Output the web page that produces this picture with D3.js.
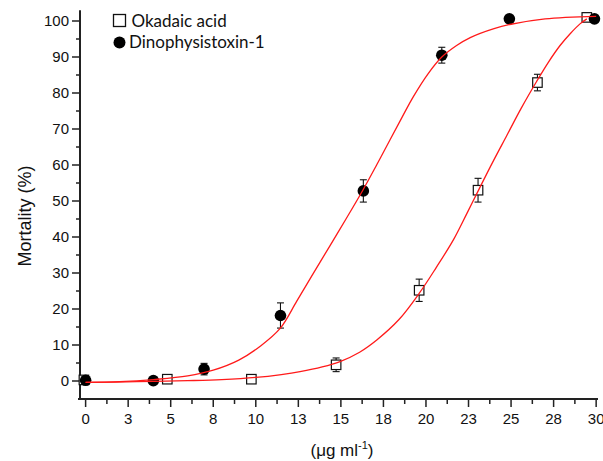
<!DOCTYPE html>
<html>
<head>
<meta charset="utf-8">
<script src="https://cdn.jsdelivr.net/npm/d3@7"></script>
<style>
  body { margin: 0; background: #fff; }
  svg { display: block; }
</style>
</head>
<body>
<div id="chart"></div>
<script>
let dtxDose = [0, 3.98, 6.96, 11.45, 16.32, 20.93, 24.9, 29.9];
let dtxMort = [0.2, 0.1, 3.3, 18.2, 52.8, 90.5, 100.6, 100.6];
let dtxErr  = [0, 0, 1.6, 3.5, 3.1, 2.2, 0, 0];

let oaDose = [-0.1, 4.8, 9.74, 14.72, 19.6, 23.06, 26.55, 29.45];
let oaMort = [0.3, 0.5, 0.5, 4.5, 25.2, 53, 82.9, 101];
let oaErr  = [0, 0, 0, 1.9, 3.1, 3.3, 2.3, 0];

// fitted curves
let dtxFitX = [0, 2, 4, 6, 7.5, 9, 10.3, 11.43, 12.4, 13.38, 14.4, 15.3, 16.29, 17.1, 17.89, 18.6, 19.26, 20.1, 20.93, 21.8, 22.6, 24, 25, 27, 30];
let dtxFitY = [-0.4, -0.2, 0.4, 1.4, 3, 5.8, 9.8, 14.6, 22.1, 29.9, 37.9, 45, 53, 60, 67, 73.3, 79, 85.2, 90, 93.2, 95.4, 97.9, 99.1, 100.6, 101.3];
let oaFitX = [0, 3, 6, 8, 10, 11.5, 12.6, 13.9, 14.95, 16.1, 17.11, 18.4, 19.61, 20.6, 21.61, 22.4, 23.12, 23.9, 24.75, 25.6, 26.5, 27.2, 27.88, 28.5, 29.05, 29.45];
let oaFitY = [-0.4, -0.2, 0.1, 0.4, 1.0, 1.8, 2.6, 3.9, 5.4, 8, 11.4, 17, 24.4, 31.5, 39.2, 46.5, 53.3, 60.6, 68.2, 75.8, 83.2, 88.6, 93.2, 96.6, 99.2, 100.6];

let xTickValues = [0, 2.5, 5, 7.5, 10, 12.5, 15, 17.5, 20, 22.5, 25, 27.5, 30];
let xTickLabels = ["0", "3", "5", "8", "10", "13", "15", "18", "20", "23", "25", "28", "30"];
let yTickValues = [0, 10, 20, 30, 40, 50, 60, 70, 80, 90, 100];
let yTickLabels = ["0", "10", "20", "30", "40", "50", "60", "70", "80", "90", "100"];

let seriesNames = ["Okadaic acid", "Dinophysistoxin-1"];

let width = 603, height = 461;

let svg = d3.select("#chart").append("svg")
    .attr("width", width)
    .attr("height", height);

let x = d3.scaleLinear().domain([-0.33, 30.05]).range([80, 597]);
let y = d3.scaleLinear().domain([-5, 103]).range([399, 10.2]);

let tickFont = "'Liberation Sans', Arial, sans-serif";

// x axis
let xMinor = xTickValues.slice(0, -1).map((d) => d + 1.25);
let xAxis = svg.append("g").attr("transform", "translate(0," + y(-5) + ")");
xAxis.append("line")
    .attr("x1", 78).attr("x2", 598)
    .attr("stroke", "#222").attr("stroke-width", 2);
xAxis.selectAll(".maj").data(xTickValues).enter().append("line")
    .attr("x1", (d) => x(d)).attr("x2", (d) => x(d))
    .attr("y1", 0).attr("y2", 8)
    .attr("stroke", "#222").attr("stroke-width", 1.5);
xAxis.selectAll(".min").data(xMinor).enter().append("line")
    .attr("x1", (d) => x(d)).attr("x2", (d) => x(d))
    .attr("y1", 0).attr("y2", 5)
    .attr("stroke", "#222").attr("stroke-width", 1.5);
xAxis.selectAll("text").data(xTickValues).enter().append("text")
    .attr("x", (d) => x(d))
    .attr("y", 25)
    .attr("text-anchor", "middle")
    .style("font-family", tickFont)
    .style("font-size", "15px")
    .attr("fill", "#111")
    .text((d, i) => xTickLabels[i]);

// y axis
let yMinor = yTickValues.slice(0, -1).map((d) => d + 5);
let yAxis = svg.append("g").attr("transform", "translate(" + x(-0.33) + ",0)");
yAxis.append("line")
    .attr("y1", y(103)).attr("y2", y(-5) + 1)
    .attr("stroke", "#222").attr("stroke-width", 2);
yAxis.selectAll(".maj").data(yTickValues).enter().append("line")
    .attr("y1", (d) => y(d)).attr("y2", (d) => y(d))
    .attr("x1", 0).attr("x2", -8)
    .attr("stroke", "#222").attr("stroke-width", 1.5);
yAxis.selectAll(".min").data(yMinor).enter().append("line")
    .attr("y1", (d) => y(d)).attr("y2", (d) => y(d))
    .attr("x1", 0).attr("x2", -4)
    .attr("stroke", "#222").attr("stroke-width", 1.5);
yAxis.selectAll("text").data(yTickValues).enter().append("text")
    .attr("x", -11)
    .attr("y", (d) => y(d))
    .attr("dy", "0.36em")
    .attr("text-anchor", "end")
    .style("font-family", tickFont)
    .style("font-size", "15px")
    .attr("fill", "#111")
    .text((d, i) => yTickLabels[i]);

// axis titles
svg.append("text")
    .attr("transform", "translate(31,216) rotate(-90)")
    .attr("text-anchor", "middle")
    .style("font-family", tickFont)
    .style("font-size", "18px")
    .attr("fill", "#111")
    .text("Mortality (%)");

let xTitle = svg.append("text")
    .attr("x", 342).attr("y", 456)
    .attr("text-anchor", "middle")
    .style("font-family", tickFont)
    .style("font-size", "17px")
    .attr("fill", "#111");
xTitle.append("tspan").text("(\u03bcg ml");
xTitle.append("tspan").attr("dy", -7).style("font-size", "11px").text("-1");
xTitle.append("tspan").attr("dy", 7).text(")");

// error bars
function errorBars(xs, ys, es) {
    let g = svg.append("g").attr("stroke", "#111").attr("stroke-width", 1.1);
    let idx = d3.range(xs.length).filter((i) => es[i] > 0);
    idx.forEach((i) => {
        let cx = x(xs[i]);
        let top = y(ys[i] + es[i]), bot = y(ys[i] - es[i]);
        g.append("line").attr("x1", cx).attr("x2", cx).attr("y1", top).attr("y2", bot);
        g.append("line").attr("x1", cx - 3.5).attr("x2", cx + 3.5).attr("y1", top).attr("y2", top);
        g.append("line").attr("x1", cx - 3.5).attr("x2", cx + 3.5).attr("y1", bot).attr("y2", bot);
    });
}
errorBars(oaDose, oaMort, oaErr);
errorBars(dtxDose, dtxMort, dtxErr);

// markers
let sq = 9.5;
svg.append("g").selectAll("rect").data(oaDose).enter().append("rect")
    .attr("x", (d) => x(d) - sq / 2)
    .attr("y", (d, i) => y(oaMort[i]) - sq / 2)
    .attr("width", sq).attr("height", sq)
    .attr("fill", "#fff")
    .attr("stroke", "#111").attr("stroke-width", 1.2);

svg.append("g").selectAll("circle").data(dtxDose).enter().append("circle")
    .attr("cx", (d) => x(d))
    .attr("cy", (d, i) => y(dtxMort[i]))
    .attr("r", 5.8)
    .attr("fill", "#000");

// fitted curves on top
let line = d3.line()
    .x((d) => x(d[0]))
    .y((d) => y(d[1]))
    .curve(d3.curveCatmullRom.alpha(0.5));

svg.append("path")
    .datum(dtxFitX.map((d, i) => [d, dtxFitY[i]]))
    .attr("d", line)
    .attr("fill", "none")
    .attr("stroke", "#ff1a1a").attr("stroke-width", 1.3);

svg.append("path")
    .datum(oaFitX.map((d, i) => [d, oaFitY[i]]))
    .attr("d", line)
    .attr("fill", "none")
    .attr("stroke", "#ff1a1a").attr("stroke-width", 1.3);

// legend
let legendFont = "Lato, 'Open Sans', sans-serif";
let legend = svg.append("g");
legend.append("rect")
    .attr("x", 113.5).attr("y", 14.5)
    .attr("width", 12).attr("height", 12)
    .attr("fill", "#fff")
    .attr("stroke", "#111").attr("stroke-width", 1.3);
legend.append("circle")
    .attr("cx", 119.5).attr("cy", 42.5).attr("r", 6)
    .attr("fill", "#000");
legend.selectAll("text").data(seriesNames).enter().append("text")
    .attr("x", (d, i) => i === 0 ? 131.5 : 129)
    .attr("y", (d, i) => i === 0 ? 26.7 : 48.3)
    .style("font-family", legendFont)
    .style("font-size", "17px")
    .attr("fill", "#111")
    .text((d) => d);
</script>
</body>
</html>
